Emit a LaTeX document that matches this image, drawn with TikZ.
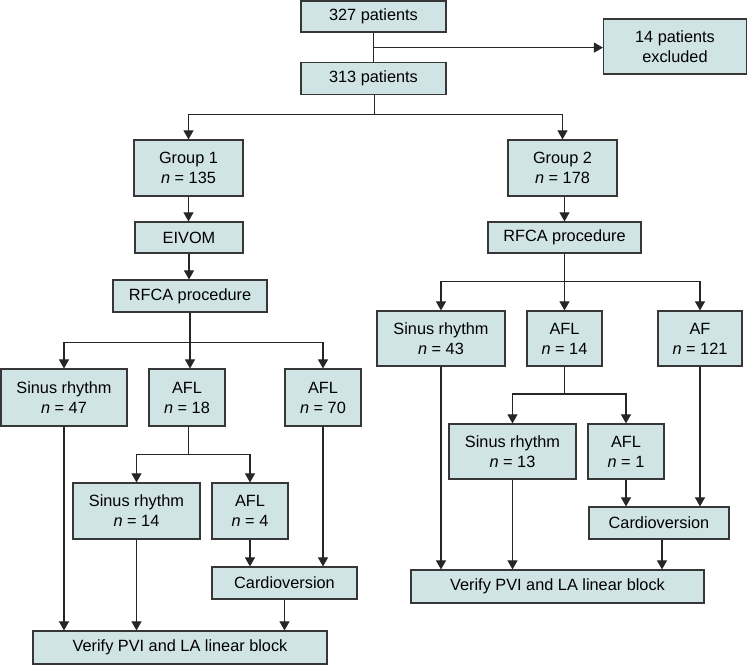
\documentclass[tikz,border=0pt]{standalone}
\usepackage{fontspec}
\setmainfont{Liberation Sans}
\usetikzlibrary{arrows.meta}
\definecolor{boxfill}{RGB}{208,228,230}
\definecolor{boxline}{RGB}{55,55,55}
\tikzset{
  box/.style={draw=boxline, line width=1.2pt, fill=boxfill, inner sep=0pt, align=center,
    font=\fontsize{16.3}{20}\selectfont},
  conn/.style={line width=1.1pt, draw=black!85},
  arr/.style={conn, -{Triangle[length=9pt,width=10pt]}},
}
\newcommand{\bx}[6]{\node[box, minimum width=#4pt, minimum height=#5pt] (#1) at (#2,#3) {#6};}
\begin{document}
\begin{tikzpicture}[x=1pt,y=-1pt]
\useasboundingbox (0,0) rectangle (749,665);
% top
\bx{n327}{373.5}{16.5}{145}{31}{327 patients}
\bx{n313}{373.5}{78.5}{145}{32}{313 patients}
\bx{excl}{675}{46.5}{143}{55}{14 patients\\excluded}
\bx{g1}{188.5}{168}{109}{56}{Group 1\\\textit{n} = 135}
\bx{g2}{562.5}{168}{109}{56}{Group 2\\\textit{n} = 178}
% left
\bx{eivom}{189}{237.5}{108}{31}{EIVOM}
\bx{rfcaA}{190}{296}{154}{32}{RFCA procedure}
\bx{srA}{64}{397.5}{126}{57}{Sinus rhythm\\\textit{n} = 47}
\bx{aflA}{187}{397.5}{76}{57}{AFL\\\textit{n} = 18}
\bx{aflB}{323}{397.5}{76}{57}{AFL\\\textit{n} = 70}
\bx{srB}{136.5}{511}{127}{56}{Sinus rhythm\\\textit{n} = 14}
\bx{aflC}{250}{511}{76}{56}{AFL\\\textit{n} = 4}
\bx{cvA}{284.5}{583}{145}{32}{Cardioversion}
\bx{verA}{180}{647.5}{294}{33}{Verify PVI and LA linear block}
% right
\bx{rfcaB}{564.5}{237.5}{153}{31}{RFCA procedure}
\bx{srC}{441}{338.5}{128}{55}{Sinus rhythm\\\textit{n} = 43}
\bx{aflD}{564.5}{338.5}{75}{55}{AFL\\\textit{n} = 14}
\bx{af}{700}{338.5}{84}{55}{AF\\\textit{n} = 121}
\bx{srD}{512.5}{451.5}{127}{55}{Sinus rhythm\\\textit{n} = 13}
\bx{aflE}{626}{451.5}{76}{55}{AFL\\\textit{n} = 1}
\bx{cvB}{659}{523}{140}{32}{Cardioversion}
\bx{verB}{557.5}{586.5}{293}{33}{Verify PVI and LA linear block}
% coordinates
\coordinate (exc) at ([yshift=-15pt]n327.south);
\coordinate (j0) at (374.5,114.7);
\coordinate (j1) at (190,342.7);
\coordinate (j2) at (188.7,454.7);
\coordinate (j3) at (564.5,281.7);
\coordinate (j4) at (564.5,394);
% top connectors
\draw[conn] (n327.south) -- (n313.north);
\draw[arr] (exc) -- (exc -| excl.west);
\draw[conn] (n313.south -| j0) -- (j0);
\draw[arr] (j0) -| (g1.north);
\draw[arr] (j0) -| (g2.north);
% left
\draw[arr] (g1.south) -- (g1.south |- eivom.north);
\draw[arr] (eivom.south) -- (eivom.south |- rfcaA.north);
\draw[conn] (rfcaA.south) -- (j1);
\draw[arr] (j1) -| (srA.north);
\draw[arr] (j1) -- (j1 |- aflA.north);
\draw[arr] (j1) -| (aflB.north);
\draw[conn] (aflA.south -| j2) -- (j2);
\draw[arr] (j2) -| (srB.north);
\draw[arr] (j2) -| (aflC.north);
\draw[arr] (srA.south) -- (srA.south |- verA.north);
\draw[arr] (srB.south) -- (srB.south |- verA.north);
\draw[arr] (aflC.south) -- (aflC.south |- cvA.north);
\draw[arr] (aflB.south) -- (aflB.south |- cvA.north);
\draw[arr] (cvA.south) -- (cvA.south |- verA.north);
% right
\draw[arr] (g2.south -| rfcaB.north) -- (rfcaB.north);
\draw[conn] (rfcaB.south) -- (j3);
\draw[arr] (j3) -| (srC.north);
\draw[arr] (j3) -- (aflD.north);
\draw[arr] (j3) -| (af.north);
\draw[conn] (aflD.south) -- (j4);
\draw[arr] (j4) -| (srD.north);
\draw[arr] (j4) -| (aflE.north);
\draw[arr] (srC.south) -- (srC.south |- verB.north);
\draw[arr] (srD.south) -- (srD.south |- verB.north);
\draw[arr] (aflE.south) -- (aflE.south |- cvB.north);
\draw[arr] (af.south) -- (af.south |- cvB.north);
\draw[arr] ([xshift=3pt]cvB.south) -- ([xshift=3pt]cvB.south |- verB.north);
\end{tikzpicture}
\end{document}
